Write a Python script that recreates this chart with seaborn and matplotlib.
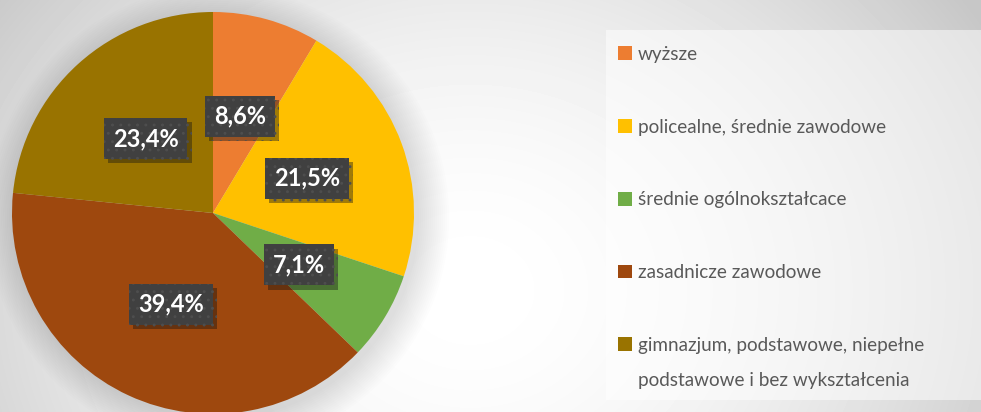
import numpy as np
import matplotlib
matplotlib.use("Agg")
import matplotlib.pyplot as plt
import matplotlib.patheffects as pe
from matplotlib.patches import Circle, Rectangle
import seaborn as sns

# shares of education levels, in percent
categories = ["wyższe", "policealne, średnie zawodowe", "średnie ogólnokształcace",
              "zasadnicze zawodowe", "gimnazjum, podstawowe, niepełne"]
last_label_tail = "podstawowe i bez wykształcenia"
shares = [8.6, 21.5, 7.1, 39.4, 23.4]
colors = ["#ED7D31", "#FFC000", "#70AD47", "#9E480E", "#997300"]

sns.set_theme(style="white")
plt.rcParams["font.family"] = ["Lato", "DejaVu Sans"]
plt.rcParams["hatch.linewidth"] = 0.9

W, H = 981, 412
fig = plt.figure(figsize=(W / 100, H / 100), dpi=100)

# radial background
bg = fig.add_axes([0, 0, 1, 1], zorder=-10)
yy, xx = np.mgrid[0:H, 0:W]
r = np.sqrt((xx - 470) ** 2 + ((yy - 290) / 0.85) ** 2)
shade = 1 - 0.22 * np.clip(r / 600, 0, 1) ** 1.8
bg.imshow(shade, cmap="gray", vmin=0, vmax=1, aspect="auto", interpolation="bilinear")
bg.axis("off")

# lighter panel behind the legend
fig.patches.append(Rectangle((606 / W, 12 / H), (W - 600) / W, 370 / H, transform=fig.transFigure,
                             facecolor="white", alpha=0.5, lw=0, zorder=-5))

ax = fig.add_axes([12 / W, -2 / H, 402 / W, 402 / H])

# soft shadow under the pie
for i in range(16):
    ax.add_patch(Circle((0.025, -0.025), 1.0 + 0.01 * i, color="black", alpha=0.006,
                        lw=0, zorder=0, clip_on=False))

wedges, texts, autotexts = ax.pie(
    shares, colors=colors, startangle=90, counterclock=False,
    autopct=lambda p: f"{p:.1f}%".replace(".", ","), pctdistance=0.5,
    wedgeprops=dict(linewidth=0), textprops=dict(color="white", fontsize=17, fontweight="bold"),
)
for w in wedges:
    w.set_zorder(2)
    w.set_clip_on(False)
for t in autotexts:
    t.set_zorder(5)
    t.set_bbox(dict(boxstyle="square,pad=0.38", facecolor="#404040", edgecolor="#4e4e4e",
                    linewidth=0, hatch=".."))
    t.get_bbox_patch().set_path_effects([pe.withSimplePatchShadow(offset=(3, -3), alpha=0.4)])
ax.set_xlim(-1, 1)
ax.set_ylim(-1, 1)
ax.axis("off")

leg = fig.legend(wedges, categories, loc="upper left", bbox_to_anchor=(618 / W, 1 - 46 / H),
                 frameon=False, fontsize=13.6, labelcolor="#595959", handlelength=0.75,
                 handleheight=0.75, handletextpad=0.3, labelspacing=2.95, borderpad=0,
                 borderaxespad=0)

# second line of the last legend entry, aligned under the first
fig.canvas.draw()
bb = leg.get_texts()[-1].get_window_extent()
fig.text(bb.x0 / W, (bb.y0 - 35) / H, last_label_tail, fontsize=13.6, color="#595959",
         ha="left", va="bottom")

fig.savefig("out.png", dpi=100)
